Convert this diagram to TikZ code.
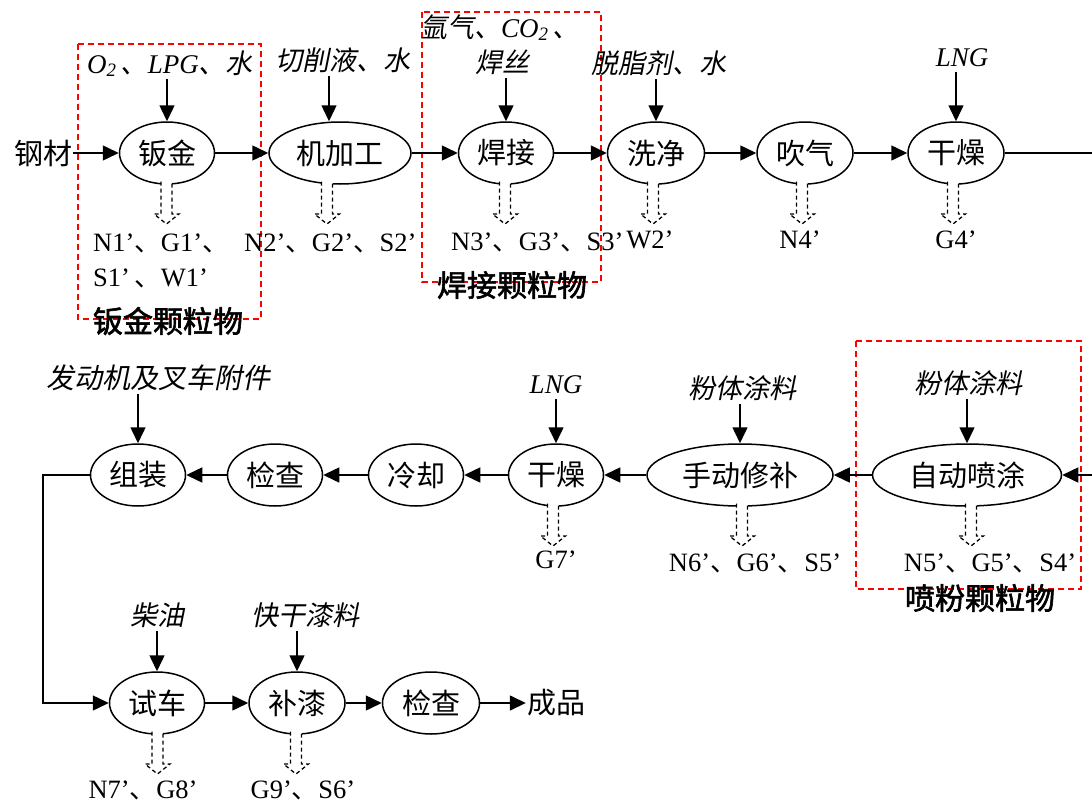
\documentclass[tikz,border=0pt]{standalone}
\usepackage{fontspec}
\setmainfont{Liberation Serif}
\newfontfamily\cjk{Noto Sans CJK SC}
\newfontfamily\cjki{Noto Sans CJK SC}[FakeSlant=0.2]
\newfontfamily\cjkb{Noto Sans CJK SC}[FakeBold=2]
\usetikzlibrary{shapes.geometric,arrows.meta}
\newcommand\dn{{\cjk 、}}
\newcommand\li[1]{{\rmfamily\itshape #1}}
\tikzset{
 proc/.style={ellipse, draw, line width=1.5pt, minimum height=62pt, inner sep=0pt, font=\cjk\fontsize{29}{30}\selectfont},
 inp/.style={inner sep=1pt, text height=21pt, text depth=5pt, font=\cjki\fontsize{27}{28}\selectfont},
 outl/.style={inner sep=1pt, font=\rmfamily\fontsize{26.5}{28}\selectfont},
 plain/.style={inner sep=1pt, font=\cjk\fontsize{29}{30}\selectfont},
 flow/.style={line width=1.5pt, -{Triangle[length=16pt,width=15pt]}},
 conn/.style={line width=1.5pt},
 grp/.style={draw=red, line width=1.5pt, dash pattern=on 6pt off 4pt},
 grplab/.style={inner sep=0pt, font=\cjkb\fontsize{30}{31}\selectfont},
 emis/.pic={\fill[white] (-5.5,-2.5) rectangle (5.5,30);
   \draw[line width=1.3pt, dash pattern=on 4pt off 3pt] (-5.5,-2.5) -- (-5.5,30) -- (-12.5,30) -- (0,40) -- (12.5,30) -- (5.5,30) -- (5.5,-2.5);}
}
\begin{document}
\begin{tikzpicture}[x=1pt,y=-1pt]
\useasboundingbox (0,0) rectangle (1092,803);
% group boxes
\draw[grp] (78,44) rectangle (261,319);
\draw[grp] (422,12) rectangle (601,282);
\draw[grp] (856,341) rectangle (1081,589);
% ---------- row 1 ----------
\node[plain] (steel) at (43,153) {钢材};
\node[proc, minimum width=95pt] (p1) at (167,153) {钣金};
\node[proc, minimum width=142pt] (p2) at (340,153) {机加工};
\node[proc, minimum width=95pt] (p3) at (506,153) {焊接};
\node[proc, minimum width=97pt] (p4) at (656,153) {洗净};
\node[proc, minimum width=96pt] (p5) at (805,153) {吹气};
\node[proc, minimum width=96pt] (p6) at (956,153) {干燥};
\coordinate (e1) at (1092,153);
\draw[flow] (steel) -- (p1);
\draw[flow] (p1) -- (p2);
\draw[flow] (p2) -- (p3);
\draw[flow] (p3) -- (p4);
\draw[flow] (p4) -- (p5);
\draw[flow] (p5) -- (p6);
\draw[conn] (p6) -- (e1);
% inputs row 1
\node[inp] (i1) at (170,65) {\li{O\textsubscript{2}}\,、\li{LPG}、水};
\node[inp] (i2) at (343,62) {切削液、水};
\node[inp] (i3a) at (500,29) {氩气、\li{CO\textsubscript{2}}\,、};
\node[inp] (i3) at (502,64) {焊丝};
\node[inp] (i4) at (659,65) {脱脂剂、水};
\node[inp] (i6) at (962,58) {\li{LNG}};
\coordinate (p2in) at ([xshift=-11pt]p2.north);
\draw[flow] (i1.south -| p1.north) -- (p1.north);
\draw[flow] (i2.south -| p2in) -- (p2in);
\draw[flow] (i3.south -| p3.north) -- (p3.north);
\draw[flow] (i4.south -| p4.north) -- (p4.north);
\draw[flow] (i6.south -| p6.north) -- (p6.north);
% emissions row 1
\pic at (166.5,184) {emis};
\pic at (327,184) {emis};
\pic at (505,184) {emis};
\pic at (653,184) {emis};
\pic at (802,184) {emis};
\pic at (953,184) {emis};
\node[outl, anchor=west] (o1a) at (92,243) {N1'\dn G1'\dn};
\node[outl, anchor=west] (o1b) at (92,278) {S1'\,\dn W1'};
\node[outl, anchor=west] (o2) at (243,243) {N2'\dn G2'\dn S2'};
\node[outl, anchor=west] (o3) at (450,242) {N3'\dn G3'\dn S3'};
\node[outl] (o4) at (650,240) {W2'};
\node[outl] (o5) at (800,240) {N4'};
\node[outl] (o6) at (956,240) {G4'};
% group labels
\node[grplab] (g1) at (168,321) {钣金颗粒物};
\node[grplab] (g2) at (512,285) {焊接颗粒物};
\node[grplab] (g3) at (980,598) {喷粉颗粒物};
% ---------- row 2 ----------
\node[proc, minimum width=189pt] (q1) at (967,475) {自动喷涂};
\node[proc, minimum width=186pt] (q2) at (740,475) {手动修补};
\node[proc, minimum width=95pt] (q3) at (556,475) {干燥};
\node[proc, minimum width=95pt] (q4) at (416,475) {冷却};
\node[proc, minimum width=95pt] (q5) at (275,475) {检查};
\node[proc, minimum width=95pt] (q6) at (138,475) {组装};
\coordinate (e2) at (1092,475);
\draw[flow] (e2) -- (q1);
\draw[flow] (q1) -- (q2);
\draw[flow] (q2) -- (q3);
\draw[flow] (q3) -- (q4);
\draw[flow] (q4) -- (q5);
\draw[flow] (q5) -- (q6);
\node[inp, font=\cjki\fontsize{28}{29}\selectfont] (j6) at (158,380) {发动机及叉车附件};
\node[inp] (j3) at (556,385) {\li{LNG}};
\node[inp] (j2) at (742,390) {粉体涂料};
\node[inp] (j1) at (968,385) {粉体涂料};
\draw[flow] (j6.south -| q6.north) -- (q6.north);
\draw[flow] (j3.south -| q3.north) -- (q3.north);
\draw[flow] (j2.south -| q2.north) -- (q2.north);
\draw[flow] (j1.south -| q1.north) -- (q1.north);
\pic at (553,506) {emis};
\pic at (742,506) {emis};
\pic at (971,506) {emis};
\node[outl] (o7) at (556,560) {G7'};
\node[outl] (o8) at (755,563) {N6'\dn G6'\dn S5'};
\node[outl] (o9) at (990,563) {N5'\dn G5'\dn S4'};
% ---------- row 3 ----------
\node[proc, minimum width=95pt] (r1) at (157,703) {试车};
\node[proc, minimum width=96pt] (r2) at (297,703) {补漆};
\node[proc, minimum width=97pt] (r3) at (431,703) {检查};
\node[plain] (prod) at (556,703) {成品};
\coordinate (c1) at (43,475);
\coordinate (c2) at (43,703);
\draw[flow] (q6.west) -- (c1) -- (c2) -- (r1);
\draw[flow] (r1) -- (r2);
\draw[flow] (r2) -- (r3);
\draw[flow] (r3) -- (prod);
\node[inp] (k1) at (157,617) {柴油};
\node[inp] (k2) at (305,617) {快干漆料};
\draw[flow] (k1.south -| r1.north) -- (r1.north);
\draw[flow] (k2.south -| r2.north) -- (r2.north);
\pic at (157.5,734) {emis};
\pic at (296,734) {emis};
\node[outl] (o10) at (143,790) {N7'\dn G8'};
\node[outl] (o11) at (303,790) {G9'\dn S6'};
\end{tikzpicture}
\end{document}
